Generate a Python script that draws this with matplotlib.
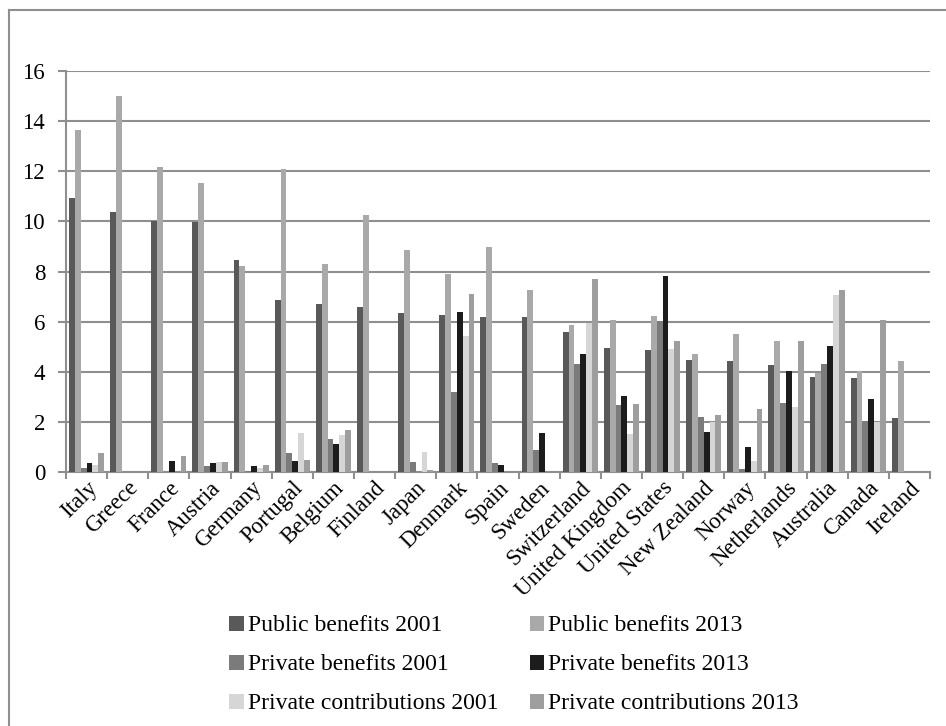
import matplotlib
matplotlib.use('Agg')
import matplotlib.pyplot as plt
from matplotlib.lines import Line2D
from matplotlib.ticker import FixedLocator
import numpy as np

plt.rcParams['font.family'] = ['Liberation Serif', 'DejaVu Serif']

countries = ['Italy', 'Greece', 'France', 'Austria', 'Germany', 'Portugal',
             'Belgium', 'Finland', 'Japan', 'Denmark', 'Spain', 'Sweden',
             'Switzerland', 'United Kingdom', 'United States', 'New Zealand',
             'Norway', 'Netherlands', 'Australia', 'Canada', 'Ireland']

public_2001 = [10.95, 10.38, 10.03, 9.96, 8.47, 6.88, 6.70, 6.60, 6.36, 6.28, 6.20,
               6.20, 5.60, 4.96, 4.88, 4.48, 4.44, 4.28, 3.80, 3.76, 2.16]
public_2013 = [13.65, 15.00, 12.18, 11.54, 8.23, 12.10, 8.31, 10.27, 8.87, 7.92, 8.99,
               7.28, 5.88, 6.08, 6.24, 4.72, 5.52, 5.24, 3.96, 4.04, 4.44]
private_2001 = [0.17, 0, 0, 0.24, 0.05, 0.74, 1.32, 0, 0.40, 3.20, 0.36,
                0.88, 4.32, 2.68, 6.03, 2.20, 0.10, 2.76, 4.32, 2.04, 0]
private_2013 = [0.35, 0, 0.42, 0.35, 0.24, 0.42, 1.12, 0, 0, 6.40, 0.28,
                1.56, 4.72, 3.04, 7.84, 1.60, 1.00, 4.04, 5.04, 2.92, 0]
contrib_2001 = [0.28, 0, 0, 0.38, 0.16, 1.57, 1.48, 0, 0.80, 5.44, 0,
                0, 5.96, 1.53, 4.92, 2.00, 0.44, 2.60, 7.08, 2.00, 0]
contrib_2013 = [0.77, 0, 0.62, 0.38, 0.27, 0.47, 1.68, 0, 0.08, 7.12, 0,
                0, 7.72, 2.72, 5.24, 2.28, 2.52, 5.24, 7.28, 6.08, 0]

series = [
    ('Public benefits 2001', public_2001, '#595959'),
    ('Public benefits 2013', public_2013, '#a9a9a9'),
    ('Private benefits 2001', private_2001, '#7b7b7b'),
    ('Private benefits 2013', private_2013, '#1c1c1c'),
    ('Private contributions 2001', contrib_2001, '#d6d6d6'),
    ('Private contributions 2013', contrib_2013, '#9e9e9e'),
]

grid_col = '#8f8f8f'

fig = plt.figure(figsize=(9.46, 7.26), dpi=100)
ax = fig.add_axes([66 / 946, 1 - 472 / 726, (930 - 66) / 946, (472 - 71) / 726])

x = np.arange(len(countries))
w = 0.142
bars = {}
for i, (name, vals, col) in enumerate(series):
    off = (i - 2.5) * w
    bars[name] = ax.bar(x + off, vals, w, color=col, zorder=3, label=name)

ax.set_xlim(-0.5, len(countries) - 0.5)
ax.set_ylim(0, 16)
ax.set_yticks(range(0, 17, 2))
ax.yaxis.grid(True, color=grid_col, linewidth=1.5, zorder=0)

for s in ['top', 'right']:
    ax.spines[s].set_visible(False)
for s in ['left', 'bottom']:
    ax.spines[s].set_color(grid_col)
    ax.spines[s].set_linewidth(1.5)

ax.tick_params(axis='y', direction='out', length=6, width=1.5, color=grid_col,
               labelsize=16.5, pad=9)
ax.set_xticks(x)
ax.set_xticklabels(countries, rotation=45, ha='right', va='top',
                   rotation_mode='anchor', fontsize=16.5)
ax.tick_params(axis='x', which='major', length=0, pad=4)
ax.xaxis.set_minor_locator(FixedLocator(np.arange(-0.5, len(countries), 1)))
ax.tick_params(axis='x', which='minor', direction='out', length=5, width=1.5,
               color=grid_col)

# legend laid out column by column
order = [0, 2, 4, 1, 3, 5]
handles = [bars[series[k][0]] for k in order]
labels = [series[k][0] for k in order]
fig.legend(handles, labels, ncol=2, loc='upper left',
           bbox_to_anchor=(220 / 946, 1 - 606 / 726), frameon=False,
           fontsize=17, handlelength=0.6, handleheight=0.6, handletextpad=0.2,
           columnspacing=1.3, labelspacing=0.76, borderaxespad=0)

# outer chart frame (top and left edges visible)
fig.add_artist(Line2D([9 / 946, 1], [1 - 10 / 726, 1 - 10 / 726],
                      color=grid_col, linewidth=1.5, transform=fig.transFigure))
fig.add_artist(Line2D([9 / 946, 9 / 946], [0, 1 - 10 / 726],
                      color=grid_col, linewidth=1.5, transform=fig.transFigure))

fig.savefig('out.png', dpi=100)
